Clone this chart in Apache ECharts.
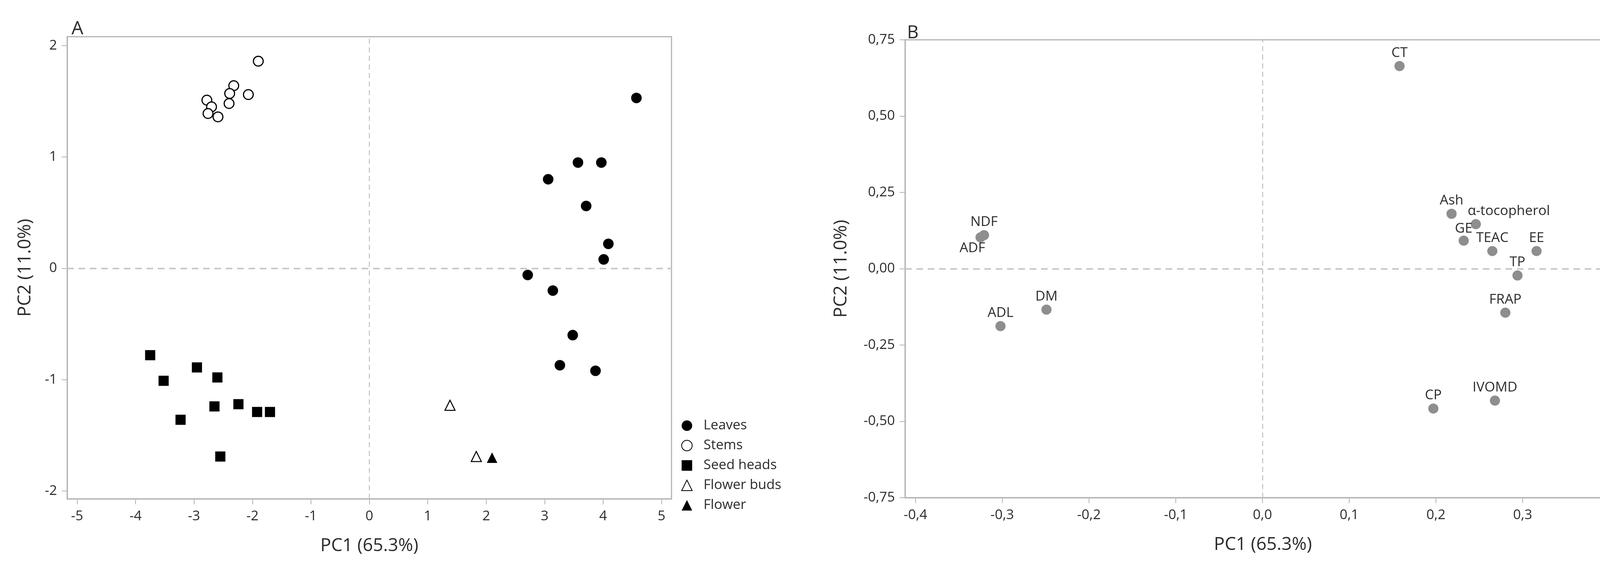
<!DOCTYPE html>
<html>
<head>
<meta charset="utf-8">
<script src="https://cdn.jsdelivr.net/npm/echarts@6/dist/echarts.min.js"></script>
<style>
html,body{margin:0;padding:0;background:#fff;}
#c{width:4212px;height:1468px;}
</style>
</head>
<body>
<div id="c"></div>
<script>
// ---- Panel A: sample scores ----
const leavesPC1 = [4.57, 3.57, 3.97, 3.06, 3.71, 4.09, 4.01, 2.71, 3.14, 3.48, 3.26, 3.87];
const leavesPC2 = [1.53, 0.95, 0.95, 0.80, 0.56, 0.22, 0.08, -0.06, -0.20, -0.60, -0.87, -0.92];
const stemsPC1 = [-1.90, -2.32, -2.07, -2.39, -2.40, -2.78, -2.70, -2.76, -2.59];
const stemsPC2 = [1.86, 1.64, 1.56, 1.57, 1.48, 1.51, 1.45, 1.39, 1.36];
const seedPC1 = [-3.75, -3.52, -2.95, -2.60, -2.65, -2.24, -1.92, -1.70, -3.23, -2.55];
const seedPC2 = [-0.78, -1.01, -0.89, -0.98, -1.24, -1.22, -1.29, -1.29, -1.36, -1.69];
const budsPC1 = [1.38, 1.83];
const budsPC2 = [-1.23, -1.69];
const flowerPC1 = [2.10];
const flowerPC2 = [-1.70];
const groupNames = ['Leaves', 'Stems', 'Seed heads', 'Flower buds', 'Flower'];

// ---- Panel B: variable loadings ----
const varNames = ['CT', 'Ash', 'α-tocopherol', 'GE', 'TEAC', 'EE', 'TP', 'FRAP', 'IVOMD', 'CP', 'NDF', 'ADF', 'DM', 'ADL'];
const varPC1 = [0.158, 0.218, 0.246, 0.232, 0.265, 0.316, 0.294, 0.280, 0.268, 0.197, -0.321, -0.325, -0.249, -0.302];
const varPC2 = [0.664, 0.180, 0.146, 0.092, 0.058, 0.058, -0.022, -0.144, -0.432, -0.458, 0.110, 0.103, -0.134, -0.188];

// ---- tick values ----
const ticksAx = [-5, -4, -3, -2, -1, 0, 1, 2, 3, 4, 5];
const ticksAy = [-2, -1, 0, 1, 2];
const ticksBx = [-0.4, -0.3, -0.2, -0.1, 0, 0.1, 0.2, 0.3, 0.4];
const ticksBy = [-0.75, -0.5, -0.25, 0, 0.25, 0.5, 0.75];
const xTitle = 'PC1 (65.3%)';
const yTitle = 'PC2 (11.0%)';

const zip = (a, b) => a.map((v, i) => [v, b[i]]);

const FONT = "'Open Sans', 'Noto Sans', sans-serif";
const axisCol = '#b4b4b4';
const txtCol = '#2b2b2b';

function fmtComma(d) { return function (v) { return v.toFixed(d).replace('.', ','); }; }

function makeAxis(o) {
  return Object.assign({
    type: 'value',
    splitLine: { show: false },
    axisLine: { show: true, onZero: false, lineStyle: { color: axisCol, width: 3 } },
    nameLocation: 'middle',
    nameTextStyle: { fontFamily: FONT, fontSize: 46, color: txtCol },
  }, o);
}

const zeroLines = {
  silent: true,
  symbol: ['none', 'none'],
  label: { show: false },
  emphasis: { disabled: true },
  data: [
    { xAxis: 0, lineStyle: { type: [13, 9], width: 2.5, color: '#c2c2c2' } },
    { yAxis: 0, lineStyle: { type: [17, 12], width: 4, color: '#c8c8c8' } }
  ]
};

const labelTweaks = {
  'α-tocopherol': { align: 'left', offset: [-21, 0] },
  'ADF': { position: 'bottom', offset: [-21, 0], distance: -2 },
  'GE': { distance: 0 }
};

const loadingData = varNames.map((n, i) => {
  const t = labelTweaks[n] || {};
  return {
    name: n,
    value: [varPC1[i], varPC2[i]],
    label: Object.assign({ position: 'top', distance: 3 }, t)
  };
});

const A = { left: 172, top: 94, width: 1547, height: 1184 };
const B = { left: 2317, top: 102, width: 1832, height: 1173 };
const tick = vals => ({ show: true, length: 14, customValues: vals, lineStyle: { color: axisCol, width: 2 } });

const option = {
  animation: false,
  backgroundColor: '#fff',
  textStyle: { fontFamily: FONT },
  grid: [
    Object.assign({ show: true, borderColor: axisCol, borderWidth: 3, containLabel: false }, A),
    Object.assign({ show: true, borderColor: axisCol, borderWidth: 3, containLabel: false }, B)
  ],
  xAxis: [
    makeAxis({
      gridIndex: 0, min: -5.17, max: 5.17, name: xTitle, nameGap: 98,
      axisTick: tick(ticksAx),
      axisLabel: { customValues: ticksAx, fontFamily: FONT, fontSize: 35, color: txtCol, margin: 28, formatter: v => String(v) }
    }),
    makeAxis({
      gridIndex: 1, min: -0.412, max: 0.413, name: xTitle, nameGap: 98,
      axisTick: tick(ticksBx),
      axisLabel: { customValues: ticksBx, fontFamily: FONT, fontSize: 35, color: txtCol, margin: 28, formatter: fmtComma(1) }
    })
  ],
  yAxis: [
    makeAxis({
      gridIndex: 0, min: -2.07, max: 2.08, name: yTitle, nameGap: 84,
      axisTick: tick(ticksAy),
      axisLabel: { customValues: ticksAy, fontFamily: FONT, fontSize: 35, color: txtCol, margin: 26, formatter: v => String(v) }
    }),
    makeAxis({
      gridIndex: 1, min: -0.75, max: 0.75, name: yTitle, nameGap: 140,
      axisTick: tick(ticksBy),
      axisLabel: { customValues: ticksBy, fontFamily: FONT, fontSize: 35, color: txtCol, margin: 26, formatter: fmtComma(2) }
    })
  ],
  legend: {
    orient: 'vertical',
    left: 1739, top: 1068,
    itemWidth: 27, itemHeight: 27, itemGap: 16,
    data: groupNames,
    textStyle: { fontFamily: FONT, fontSize: 35, color: txtCol, padding: [0, 0, 0, 24] }
  },
  graphic: [
    { type: 'text', left: 183, top: 50, style: { text: 'A', font: "48px 'Open Sans'", fill: txtCol } },
    { type: 'text', left: 2322, top: 62, style: { text: 'B', font: "46px 'Open Sans'", fill: txtCol } }
  ],
  series: [
    { name: groupNames[0], type: 'scatter', xAxisIndex: 0, yAxisIndex: 0, symbol: 'circle', symbolSize: 27,
      itemStyle: { color: '#000', opacity: 1 }, data: zip(leavesPC1, leavesPC2), markLine: zeroLines, z: 3 },
    { name: groupNames[1], type: 'scatter', xAxisIndex: 0, yAxisIndex: 0, symbol: 'circle', symbolSize: 25,
      itemStyle: { color: '#fff', borderColor: '#000', borderWidth: 3, opacity: 1 }, data: zip(stemsPC1, stemsPC2), z: 3 },
    { name: groupNames[2], type: 'scatter', xAxisIndex: 0, yAxisIndex: 0, symbol: 'rect', symbolSize: 26,
      itemStyle: { color: '#000', opacity: 1 }, data: zip(seedPC1, seedPC2), z: 3 },
    { name: groupNames[3], type: 'scatter', xAxisIndex: 0, yAxisIndex: 0, symbol: 'triangle', symbolSize: 26,
      itemStyle: { color: '#fff', borderColor: '#000', borderWidth: 2.5, opacity: 1 }, data: zip(budsPC1, budsPC2), z: 3 },
    { name: groupNames[4], type: 'scatter', xAxisIndex: 0, yAxisIndex: 0, symbol: 'triangle', symbolSize: 27,
      itemStyle: { color: '#000', opacity: 1 }, data: zip(flowerPC1, flowerPC2), z: 3 },
    { name: 'Loadings', type: 'scatter', xAxisIndex: 1, yAxisIndex: 1, symbol: 'circle', symbolSize: 26,
      itemStyle: { color: '#8e8e8e', opacity: 1 },
      label: { show: true, formatter: p => p.name, fontFamily: FONT, fontSize: 35, color: txtCol },
      data: loadingData, markLine: zeroLines, z: 3 }
  ]
};

const chart = echarts.init(document.getElementById('c'), null, { renderer: 'canvas' });
chart.setOption(option);
</script>
</body>
</html>
